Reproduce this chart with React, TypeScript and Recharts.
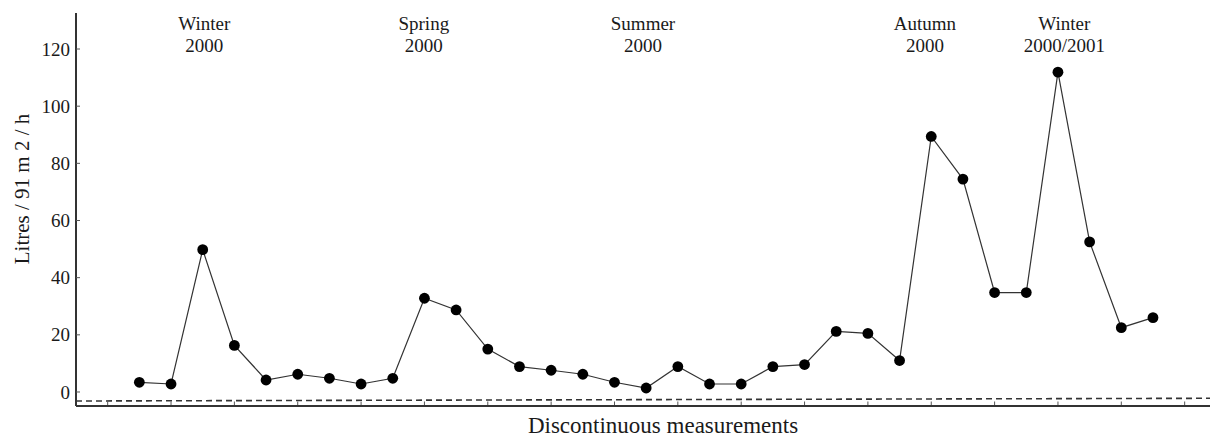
import React from 'react';
import { LineChart, Line, XAxis, YAxis, ReferenceLine } from 'recharts';

const measurementIndex = [
  1, 2, 3, 4, 5, 6, 7, 8, 9, 10, 11, 12, 13, 14, 15, 16, 17,
  18, 19, 20, 21, 22, 23, 24, 25, 26, 27, 28, 29, 30, 31, 32, 33,
];
const litres = [
  3.4, 2.8, 49.8, 16.3, 4.2, 6.2, 4.8, 2.8, 4.8, 32.8, 28.7, 15.0, 8.9, 7.6, 6.2, 3.4, 1.4,
  8.9, 2.8, 2.8, 8.9, 9.6, 21.2, 20.5, 11.0, 89.4, 74.5, 34.8, 34.8, 111.9, 52.5, 22.5, 26.0,
];
const seasonNames = ['Winter', 'Spring', 'Summer', 'Autumn', 'Winter'];
const seasonYears = ['2000', '2000', '2000', '2000', '2000/2001'];
const seasonAnchors = [3.05, 9.98, 16.9, 25.8, 30.2];
const yTicks = [0, 20, 40, 60, 80, 100, 120];
const xTicks = [0, 2, 4, 6, 8, 10, 12, 14, 16, 18, 20, 22, 24, 26, 28, 30, 32, 34];
const baselineLeft = -3.15;
const baselineRight = -2.2;

const xDomain: [number, number] = [-1, 34.8];
const yDomain: [number, number] = [-4.9, 132.6];

const data = measurementIndex.map((m, i) => ({ m, v: litres[i] }));

const FONT = "'Liberation Serif', 'Times New Roman', serif";
const TEXT = '#1a1a1a';

const XTick = (props: any) => {
  const { x, y } = props;
  return <line x1={x} x2={x} y1={y - 1} y2={y - 4.5} stroke="#555" strokeWidth={1} />;
};

const YTick = (props: any) => {
  const { x, y, payload } = props;
  return (
    <g>
      <line x1={x} x2={x + 4} y1={y} y2={y} stroke="#555" strokeWidth={1} />
      <text x={x - 6} y={y} dy="0.35em" textAnchor="end" fontSize={19} fontFamily={FONT} fill={TEXT}>
        {payload.value}
      </text>
    </g>
  );
};

const XTitle = (props: any) => {
  const vb = props.viewBox || { x: 76, width: 1134 };
  const cx = vb.x + vb.width / 2 + 20;
  return (
    <text x={cx} y={433} textAnchor="middle" fontSize={23} fontFamily={FONT} fill={TEXT}>
      Discontinuous measurements
    </text>
  );
};

const YTitle = () => (
  <text
    x={22}
    y={189}
    transform="rotate(-90, 22, 189)"
    textAnchor="middle"
    dominantBaseline="central"
    fontSize={21}
    fontFamily={FONT}
    fill={TEXT}
  >
    Litres / 91 m 2 / h
  </text>
);

const SeasonLabel = (props: any) => {
  const { viewBox, name, year } = props;
  const x = viewBox ? viewBox.x : 0;
  return (
    <g>
      <text x={x} y={30} textAnchor="middle" fontSize={19} fontFamily={FONT} fill={TEXT}>
        {name}
      </text>
      <text x={x} y={52} textAnchor="middle" fontSize={19} fontFamily={FONT} fill={TEXT}>
        {year}
      </text>
    </g>
  );
};

export default function App() {
  return (
    <div style={{ position: 'absolute', left: 0, top: 0, background: '#fff' }}>
      <LineChart
        width={1210}
        height={439}
        data={data}
        margin={{ top: 13, right: 0, bottom: 0, left: 0 }}
      >
        <XAxis
          dataKey="m"
          type="number"
          domain={xDomain}
          ticks={xTicks}
          interval={0}
          allowDataOverflow
          height={33}
          axisLine={{ stroke: '#333', strokeWidth: 2 }}
          tickLine={false}
          tickSize={0}
          tickMargin={0}
          tick={<XTick />}
          label={<XTitle />}
        />
        <YAxis
          type="number"
          domain={yDomain}
          ticks={yTicks}
          interval={0}
          allowDataOverflow
          width={76}
          axisLine={{ stroke: '#333', strokeWidth: 2 }}
          tickLine={false}
          tickSize={0}
          tickMargin={0}
          tick={<YTick />}
          label={<YTitle />}
        />
        {seasonAnchors.map((pos, i) => (
          <ReferenceLine
            key={'s' + i}
            x={pos}
            stroke="none"
            ifOverflow="visible"
            label={<SeasonLabel name={seasonNames[i]} year={seasonYears[i]} />}
          />
        ))}
        <ReferenceLine
          segment={[
            { x: xDomain[0], y: baselineLeft },
            { x: xDomain[1], y: baselineRight },
          ]}
          stroke="#333"
          strokeWidth={1.6}
          strokeDasharray="6 4"
          ifOverflow="visible"
        />
        <Line
          type="linear"
          dataKey="v"
          stroke="#333"
          strokeWidth={1.2}
          dot={{ r: 5.4, fill: '#000', stroke: '#000', strokeWidth: 0 }}
          activeDot={false}
          isAnimationActive={false}
        />
      </LineChart>
    </div>
  );
}
